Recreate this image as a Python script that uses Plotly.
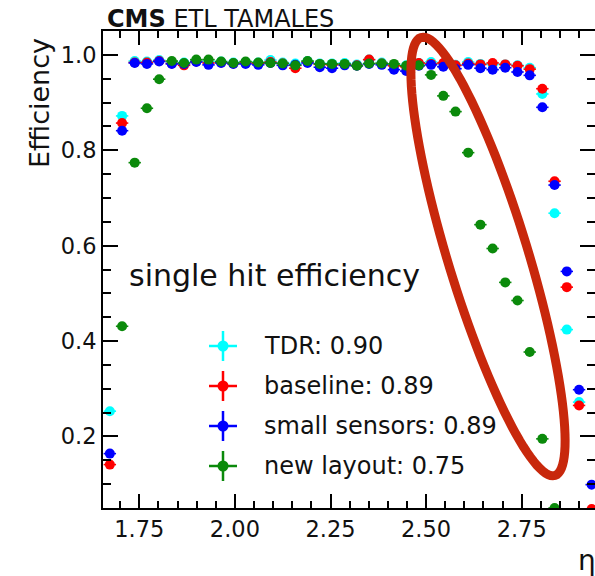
import math
import plotly.graph_objects as go

# ---- data ----
eta = [1.673, 1.705, 1.738, 1.770, 1.802, 1.835, 1.867, 1.899, 1.931, 1.964,
       1.996, 2.028, 2.061, 2.093, 2.125, 2.158, 2.190, 2.222, 2.254, 2.287,
       2.319, 2.351, 2.384, 2.416, 2.448, 2.481, 2.513, 2.545, 2.577, 2.610,
       2.642, 2.674, 2.707, 2.739, 2.771, 2.804, 2.836, 2.868, 2.900, 2.933]

eff_tdr = [0.253, 0.872, 0.987, 0.986, 0.989, 0.985, 0.984, 0.988, 0.986, 0.986,
           0.984, 0.985, 0.984, 0.989, 0.984, 0.982, 0.987, 0.982, 0.982, 0.983,
           0.980, 0.990, 0.984, 0.979, 0.978, 0.983, 0.985, 0.982, 0.979, 0.985,
           0.981, 0.980, 0.980, 0.978, 0.973, 0.918, 0.668, 0.424, 0.272, 0.030]

eff_baseline = [0.141, 0.857, 0.984, 0.984, 0.987, 0.982, 0.978, 0.986, 0.983, 0.984,
                0.982, 0.983, 0.982, 0.985, 0.982, 0.972, 0.985, 0.980, 0.979, 0.980,
                0.978, 0.990, 0.982, 0.977, 0.975, 0.983, 0.981, 0.983, 0.978, 0.982,
                0.980, 0.983, 0.980, 0.977, 0.970, 0.929, 0.735, 0.513, 0.265, 0.048]

eff_small = [0.164, 0.841, 0.983, 0.981, 0.986, 0.981, 0.981, 0.985, 0.979, 0.983,
             0.981, 0.981, 0.979, 0.983, 0.978, 0.979, 0.983, 0.974, 0.972, 0.978,
             0.977, 0.981, 0.979, 0.969, 0.966, 0.977, 0.979, 0.975, 0.971, 0.979,
             0.972, 0.969, 0.973, 0.964, 0.957, 0.890, 0.727, 0.546, 0.298, 0.099]

eff_new = [0.020, 0.431, 0.774, 0.888, 0.949, 0.987, 0.983, 0.990, 0.990, 0.986,
           0.983, 0.986, 0.984, 0.983, 0.982, 0.978, 0.987, 0.981, 0.981, 0.981,
           0.977, 0.982, 0.982, 0.981, 0.977, 0.978, 0.958, 0.914, 0.881, 0.795,
           0.644, 0.594, 0.523, 0.485, 0.377, 0.195, 0.050, 0.020, 0.010, 0.000]

series_names = ["TDR: 0.90", "baseline: 0.89", "small sensors: 0.89", "new layout: 0.75"]
series_values = [eff_tdr, eff_baseline, eff_small, eff_new]
series_colors = ["#00FFFF", "#FF0000", "#0000FF", "#0B8A0B"]
bin_half_width = 0.0162

# ---- geometry (pixels) ----
W_FIG, H_FIG = 595, 576
L, R, T, B = 103, 595, 31, 508
PW, PH = R - L, B - T


def fx(px):
    return (px - L) / PW


def fy(py):
    return (B - py) / PH


FONT = "DejaVu Sans"
TXT = "#111111"

fig = go.Figure()
for name, vals, col in zip(series_names, series_values, series_colors):
    fig.add_trace(go.Scatter(
        x=eta, y=vals, mode="markers", name=name, showlegend=False,
        marker=dict(color=col, size=10, symbol="circle", line=dict(width=0)),
        error_x=dict(type="constant", value=bin_half_width, color=col,
                     thickness=1.6, width=0),
    ))

shapes = []
annotations = []

# custom legend (ROOT style marker with error cross)
leg_x = 223
leg_text_x = 262
leg_rows = [346, 386, 426, 466]
for name, col, yy in zip(series_names, series_colors, leg_rows):
    shapes.append(dict(type="line", xref="paper", yref="paper",
                       x0=fx(leg_x - 14), x1=fx(leg_x + 14), y0=fy(yy), y1=fy(yy),
                       line=dict(color=col, width=2.5)))
    shapes.append(dict(type="line", xref="paper", yref="paper",
                       x0=fx(leg_x), x1=fx(leg_x), y0=fy(yy - 15), y1=fy(yy + 15),
                       line=dict(color=col, width=2.5)))
    shapes.append(dict(type="circle", xref="paper", yref="paper",
                       x0=fx(leg_x - 5.5), x1=fx(leg_x + 5.5),
                       y0=fy(yy + 5.5), y1=fy(yy - 5.5),
                       fillcolor=col, line=dict(color=col, width=0)))
    annotations.append(dict(xref="paper", yref="paper", x=fx(leg_text_x), y=fy(yy),
                            text=name, showarrow=False, xanchor="left", yanchor="middle",
                            font=dict(family=FONT, size=24, color=TXT)))

# hand-drawn style ellipse highlight
cx, cy, a, b, ang = 488.0, 256.5, 229.0, 40.0, math.radians(17)
mx, my = math.sin(ang), math.cos(ang)
nx, ny = math.cos(ang), -math.sin(ang)
pts = []
for k in range(0, 121):
    t = 2 * math.pi * k / 120
    px = cx + a * math.cos(t) * mx + b * math.sin(t) * nx
    py = cy + a * math.cos(t) * my + b * math.sin(t) * ny
    pts.append((fx(px), fy(py)))
path = "M " + " L ".join(f"{p[0]:.5f},{p[1]:.5f}" for p in pts) + " Z"
shapes.append(dict(type="path", xref="paper", yref="paper", path=path,
                   line=dict(color="#C8280C", width=9), layer="above"))

# texts
annotations.append(dict(xref="paper", yref="paper", x=fx(105), y=fy(19),
                        text="<b>CMS</b> ETL TAMALES", showarrow=False,
                        xanchor="left", yanchor="middle",
                        font=dict(family=FONT, size=24, color=TXT)))
annotations.append(dict(xref="paper", yref="paper", x=fx(127), y=fy(275),
                        text="single hit efficiency", showarrow=False,
                        xanchor="left", yanchor="middle",
                        font=dict(family=FONT, size=30, color=TXT)))
annotations.append(dict(xref="paper", yref="paper", x=fx(40), y=fy(36),
                        text="Efficiency", showarrow=False, textangle=-90,
                        xanchor="center", yanchor="top",
                        font=dict(family=FONT, size=27, color=TXT)))
annotations.append(dict(xref="paper", yref="paper", x=fx(576), y=fy(560),
                        text="η", showarrow=False,
                        xanchor="left", yanchor="middle",
                        font=dict(family=FONT, size=28, color=TXT)))

axis_common = dict(showline=True, linecolor="black", linewidth=2, mirror="ticks",
                   ticks="inside", tickcolor="black", tickwidth=1.8,
                   showgrid=False, zeroline=False, automargin=False,
                   tickfont=dict(family=FONT, size=22.5, color=TXT))

fig.update_xaxes(range=[1.75 - (139.3 - L) / 382.4, 1.75 + (R - 139.3) / 382.4],
                 tickmode="linear", tick0=1.75, dtick=0.25, tickformat=".2f",
                 ticklen=14,
                 minor=dict(ticks="inside", dtick=0.05, tick0=1.75, ticklen=7,
                            tickwidth=1.5, tickcolor="black"),
                 **axis_common)
fig.update_yaxes(range=[0.05, 1.05], tickmode="linear", tick0=0.0, dtick=0.2,
                 tickformat=".1f", ticklen=15,
                 minor=dict(ticks="inside", dtick=0.05, tick0=0.0, ticklen=8,
                            tickwidth=1.5, tickcolor="black"),
                 **axis_common)

fig.update_layout(width=W_FIG, height=H_FIG,
                  margin=dict(l=L, r=W_FIG - R, t=T, b=H_FIG - B, pad=0),
                  paper_bgcolor="white", plot_bgcolor="white",
                  shapes=shapes, annotations=annotations, showlegend=False)

fig.write_html("out.html",
               config={"displayModeBar": False},
               post_script="document.body.style.margin='0px';"
                           "document.body.style.overflow='hidden';")
